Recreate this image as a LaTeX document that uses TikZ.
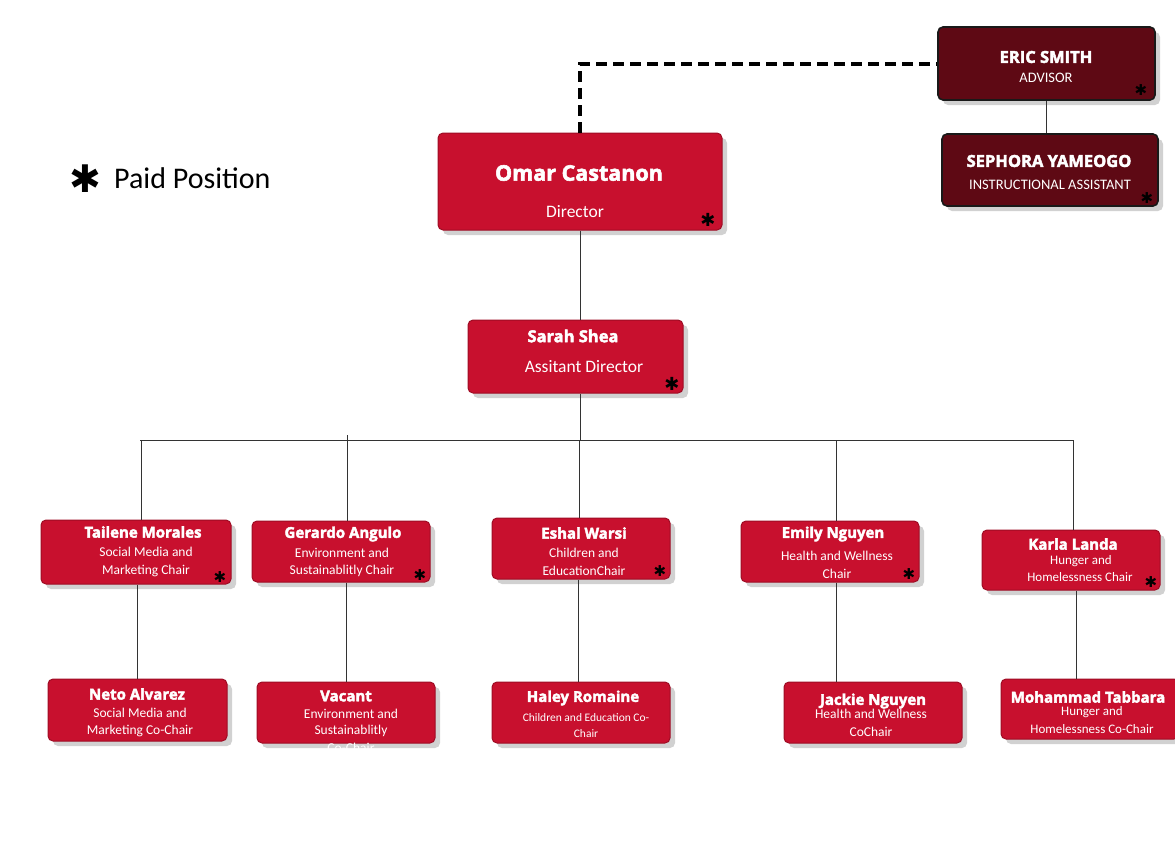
\documentclass[tikz,border=0pt]{standalone}
\usepackage{fontspec}
\setmainfont{Carlito}
\newfontfamily\namefont{Open Sans}[BoldFeatures={FakeBold=2.6}]
\newfontfamily\starfont{DejaVu Sans}
\usetikzlibrary{shadows}
\definecolor{crimson}{HTML}{C8102E}
\definecolor{crimsonedge}{HTML}{9E0C24}
\definecolor{maroon}{HTML}{5E0914}
\newcommand{\fsz}[1]{\fontsize{#1}{#1}\selectfont}
\tikzset{
  redbox/.style={draw=crimsonedge, fill=crimson, rounded corners=5pt, line width=1pt,
    drop shadow={shadow xshift=5pt, shadow yshift=-5pt, fill=black!18, opacity=1}},
  darkbox/.style={redbox, fill=maroon, draw=black!90, line width=1.6pt},
  nm/.style={text=white, inner sep=0pt, font=\namefont\bfseries\fsz{#1}},
  nm/.default=15,
  sub/.style={text=white, inner sep=0pt, font=\fsz{#1}},
  sub/.default=13.5,
  star/.style={inner sep=0pt, text=black, font=\starfont\fsz{#1}},
  star/.default=15,
  link/.style={draw=black!80, line width=0.9pt},
}
\begin{document}
\begin{tikzpicture}[x=1pt,y=-1pt]
\useasboundingbox (0,0) rectangle (1175,860);
% boxes
\node[darkbox, minimum width=217pt, minimum height=73pt] (eric) at (1046.5,63.5) {};
\node[darkbox, minimum width=216pt, minimum height=72pt] (sephora) at (1050,170) {};
\node[redbox, minimum width=284pt, minimum height=97pt] (omar) at (580,181.5) {};
\node[redbox, minimum width=215pt, minimum height=73pt] (sarah) at (575.5,356.5) {};
\node[redbox, minimum width=190pt, minimum height=64pt] (tailene) at (136,552) {};
\node[redbox, minimum width=178pt, minimum height=61pt] (gerardo) at (341,551.5) {};
\node[redbox, minimum width=178pt, minimum height=61pt] (eshal) at (581,548.5) {};
\node[redbox, minimum width=178pt, minimum height=61pt] (emily) at (830,551.5) {};
\node[redbox, minimum width=178pt, minimum height=60pt] (karla) at (1071,560) {};
\node[redbox, minimum width=179pt, minimum height=62pt] (neto) at (137.5,710) {};
\node[redbox, minimum width=178pt, minimum height=61pt] (vacant) at (346,712.5) {};
\node[redbox, minimum width=178pt, minimum height=61pt] (haley) at (581,712.5) {};
\node[redbox, minimum width=178pt, minimum height=61pt] (jackie) at (873,712.5) {};
\node[redbox, minimum width=178pt, minimum height=60pt] (mohammad) at (1090,709) {};

% connectors
\draw[line width=4pt, dash pattern=on 11pt off 6pt] (omar.north) |- (eric.west);
\draw[link] (eric.south) -- (eric.south |- sephora.north);
\draw[link] (omar.south) -- (omar.south |- sarah.north);
\coordinate (busL) at (140,440);
\coordinate (busR) at (1074,440);
\coordinate (sarahdn) at (580,0);
\draw[link] (sarahdn |- sarah.south) -- (sarahdn |- busL);
\draw[link] (busL) -- (busR);
\coordinate (tapA) at (141,440);
\coordinate (tapB) at (347,435);
\coordinate (tapC) at (579,440);
\coordinate (tapD) at (836,440);
\coordinate (tapE) at (1073,440);
\draw[link] (tapA) -- (tapA |- tailene.north);
\draw[link] (tapB) -- (tapB |- gerardo.north);
\draw[link] (tapC) -- (tapC |- eshal.north);
\draw[link] (tapD) -- (tapD |- emily.north);
\draw[link] (tapE) -- (tapE |- karla.north);
\coordinate (dnA) at (137,0);
\coordinate (dnB) at (346,0);
\coordinate (dnC) at (578,0);
\coordinate (dnD) at (836,0);
\coordinate (dnE) at (1076,0);
\draw[link] (dnA |- tailene.south) -- (dnA |- neto.north);
\draw[link] (dnB |- gerardo.south) -- (dnB |- vacant.north);
\draw[link] (dnC |- eshal.south) -- (dnC |- haley.north);
\draw[link] (dnD |- emily.south) -- (dnD |- jackie.north);
\draw[link] (dnE |- karla.south) -- (dnE |- mohammad.north);

% legend
\node[star=38] (legstar) at (85,179) {✱};
\node[inner sep=0pt, anchor=west, font=\fsz{30}] (legtext) at (114,178) {Paid Position};

% texts
\node[nm=16.5] (eric-n) at (1046,57) {ERIC SMITH};
\node[sub=14.5] (eric-s) at (1046,78) {ADVISOR};
\node[star] (eric-x) at (1141,90) {✱};
\node[nm=16.5] (seph-n) at (1049,161) {SEPHORA YAMEOGO};
\node[sub=14.5] (seph-s) at (1050,185) {INSTRUCTIONAL ASSISTANT};
\node[star] (seph-x) at (1147,198) {✱};

\node[nm=21.5] (omar-n) at (579,173) {Omar Castanon};
\node[sub=17.5] (omar-s) at (575,212) {Director};
\node[star=18] (omar-x) at (708,220) {✱};

\node[nm=16.5] (sarah-n) at (573,336) {Sarah Shea};
\node[sub=17.5] (sarah-s) at (584,367) {Assitant Director};
\node[star=18] (sarah-x) at (672,384) {✱};

\node[nm] (tail-n) at (143,532) {Tailene Morales};
\node[sub] (tail-s1) at (146,552) {Social Media and};
\node[sub] (tail-s2) at (146,571) {Marketing Chair};
\node[star] (tail-x) at (220,577) {✱};

\node[nm] (gera-n) at (343,534) {Gerardo Angulo};
\node[sub] (gera-s1) at (342,553) {Environment and};
\node[sub] (gera-s2) at (342,571) {Sustainablitly Chair};
\node[star] (gera-x) at (420,575) {✱};

\node[nm] (eshal-n) at (584,533) {Eshal Warsi};
\node[sub] (eshal-s1) at (584,553) {Children and};
\node[sub] (eshal-s2) at (584,571) {EducationChair};
\node[star] (eshal-x) at (660,571) {✱};

\node[nm] (emily-n) at (833,534) {Emily Nguyen};
\node[sub] (emily-s1) at (837,556) {Health and Wellness};
\node[sub] (emily-s2) at (837,574) {Chair};
\node[star] (emily-x) at (909,574) {✱};

\node[nm] (karla-n) at (1073,544) {Karla Landa};
\node[sub=13] (karla-s1) at (1081,561) {Hunger and};
\node[sub=13] (karla-s2) at (1080,577) {Homelessness Chair};
\node[star] (karla-x) at (1151,582) {✱};

\node[nm] (neto-n) at (137,694) {Neto Alvarez};
\node[sub] (neto-s1) at (140,713) {Social Media and};
\node[sub] (neto-s2) at (140,731) {Marketing Co-Chair};

\node[nm] (vac-n) at (346,696) {Vacant};
\node[sub] (vac-s1) at (351,714) {Environment and};
\node[sub] (vac-s2) at (351,731) {Sustainablitly};
\node[sub] (vac-s3) at (351,748) {Co-Chair};

\node[nm] (haley-n) at (583,698) {Haley Romaine};
\node[sub=11.5] (haley-s1) at (586,718) {Children and Education Co-};
\node[sub=11.5] (haley-s2) at (586,734) {Chair};

\node[nm] (jack-n) at (873,701) {Jackie Nguyen};
\node[sub] (jack-s1) at (871,714) {Health and Wellness};
\node[sub] (jack-s2) at (871,732) {CoChair};

\node[nm] (moh-n) at (1088,697) {Mohammad Tabbara};
\node[sub=13] (moh-s1) at (1092,712) {Hunger and};
\node[sub=13] (moh-s2) at (1092,729) {Homelessness Co-Chair};
\end{tikzpicture}
\end{document}
